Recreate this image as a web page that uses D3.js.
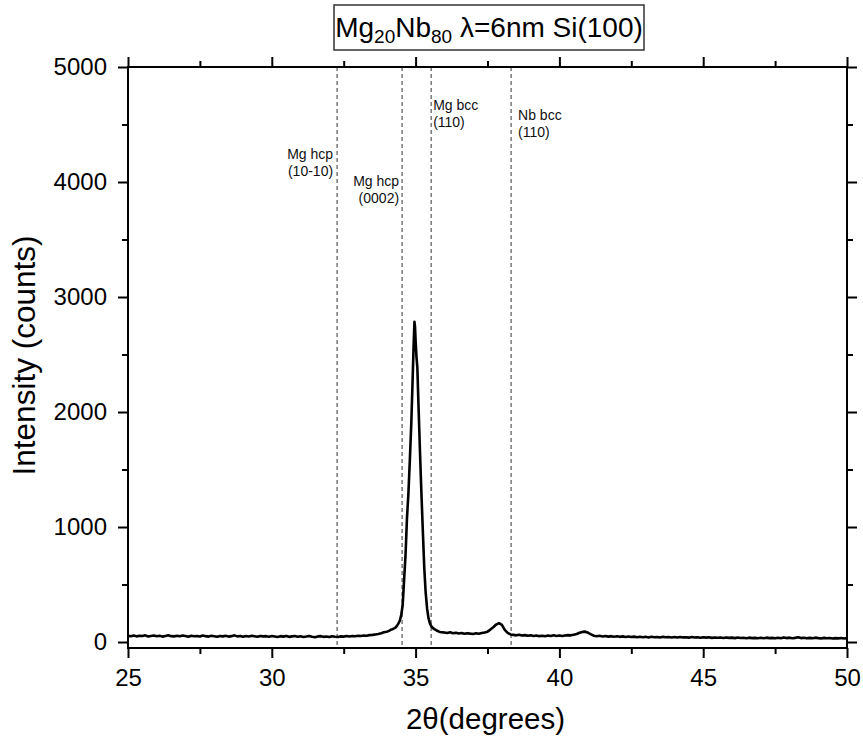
<!DOCTYPE html>
<html>
<head>
<meta charset="utf-8">
<script src="https://cdn.jsdelivr.net/npm/d3@7"></script>
<style>
  html, body { margin: 0; padding: 0; background: #fff; }
  svg { display: block; font-family: "Liberation Sans", Arial, sans-serif; }
</style>
</head>
<body>
<svg id="chart" width="863" height="744"></svg>
<script>
// XRD scan of Mg20Nb80 multilayer (λ = 6 nm) on Si(100): [2θ (deg), intensity (counts)]
const scanLow = [
  [25.0,54],[25.1,50],[25.2,57],[25.3,49],[25.4,55],[25.5,52],[25.6,58],[25.7,48],[25.8,53],[25.9,56],
  [26.0,50],[26.1,55],[26.2,47],[26.3,53],[26.4,58],[26.5,51],[26.6,49],[26.7,54],[26.8,50],[26.9,57],
  [27.0,52],[27.1,46],[27.2,55],[27.3,50],[27.4,53],[27.5,48],[27.6,56],[27.7,51],[27.8,47],[27.9,54],
  [28.0,50],[28.1,45],[28.2,52],[28.3,49],[28.4,55],[28.5,47],[28.6,51],[28.7,58],[28.8,49],[28.9,53],
  [29.0,46],[29.1,52],[29.2,48],[29.3,55],[29.4,50],[29.5,45],[29.6,53],[29.7,49],[29.8,51],[29.9,46],
  [30.0,52],[30.1,48],[30.2,44],[30.3,51],[30.4,47],[30.5,53],[30.6,45],[30.7,49],[30.8,52],[30.9,46],
  [31.0,50],[31.1,44],[31.2,48],[31.3,53],[31.4,46],[31.5,42],[31.6,49],[31.7,51],[31.8,45],[31.9,48],
  [32.0,43],[32.1,50],[32.2,46],[32.3,44],[32.4,49],[32.5,47],[32.6,52],[32.7,48],[32.8,53],[32.9,50],
  [33.0,55],[33.1,52],[33.2,57],[33.3,55],[33.4,60],[33.5,62],[33.6,66],[33.7,70],[33.8,76],[33.9,84]
];
const scanPeak = [
  [34.0,90],[34.05,95],[34.1,100],[34.15,108],[34.2,112],[34.25,118],[34.3,125],[34.35,140],
  [34.4,160],[34.45,185],[34.5,235],[34.55,320],[34.6,540],[34.65,757],[34.7,1076],[34.75,1293],
  [34.8,1584],[34.85,1899],[34.9,2309],[34.93,2565],[34.96,2785],[34.98,2740],[35.0,2620],
  [35.03,2480],[35.06,2391],[35.1,2063],[35.15,1672],[35.2,1308],[35.25,976],[35.3,652],
  [35.35,430],[35.4,290],[35.45,205],[35.5,160],[35.55,135],[35.6,122],[35.65,112],[35.7,105],
  [35.75,98],[35.8,92],[35.85,88],[35.9,85],[35.95,84]
];
const scanHigh = [
  [36.0,82],[36.1,78],[36.2,84],[36.3,76],[36.4,80],[36.5,74],[36.6,79],[36.7,72],[36.8,77],[36.9,73],
  [37.0,70],[37.1,76],[37.2,72],[37.3,78],[37.4,82],[37.5,90],[37.6,108],[37.7,128],[37.8,152],[37.9,165],
  [38.0,150],[38.1,105],[38.2,80],[38.3,66],[38.4,62],[38.5,58],[38.6,63],[38.7,56],[38.8,60],[38.9,54],
  [39.0,58],[39.1,52],[39.2,57],[39.3,51],[39.4,55],[39.5,50],[39.6,56],[39.7,52],[39.8,58],[39.9,53],
  [40.0,57],[40.1,52],[40.2,56],[40.3,60],[40.4,58],[40.5,64],[40.6,70],[40.7,80],[40.8,88],[40.9,90],
  [41.0,80],[41.1,66],[41.2,55],[41.3,50],[41.4,54],[41.5,48],[41.6,52],[41.7,47],[41.8,51],[41.9,46],
  [42.0,50],[42.1,45],[42.2,49],[42.3,44],[42.4,48],[42.5,43],[42.6,47],[42.7,42],[42.8,46],[42.9,41],
  [43.0,45],[43.1,40],[43.2,46],[43.3,42],[43.4,44],[43.5,39],[43.6,45],[43.7,41],[43.8,43],[43.9,40],
  [44.0,44],[44.1,39],[44.2,43],[44.3,40],[44.4,42],[44.5,38],[44.6,43],[44.7,39],[44.8,41],[44.9,37],
  [45.0,42],[45.1,38],[45.2,41],[45.3,36],[45.4,40],[45.5,37],[45.6,39],[45.7,35],[45.8,40],[45.9,36],
  [46.0,38],[46.1,34],[46.2,39],[46.3,35],[46.4,37],[46.5,33],[46.6,38],[46.7,34],[46.8,36],[46.9,33],
  [47.0,37],[47.1,33],[47.2,38],[47.3,34],[47.4,36],[47.5,32],[47.6,37],[47.7,33],[47.8,40],[47.9,34],
  [48.0,38],[48.1,33],[48.2,36],[48.3,41],[48.4,34],[48.5,37],[48.6,32],[48.7,36],[48.8,33],[48.9,38],
  [49.0,34],[49.1,31],[49.2,36],[49.3,33],[49.4,35],[49.5,31],[49.6,34],[49.7,32],[49.8,35],[49.9,31],
  [50.0,34]
];

// Reference reflection positions (2θ, deg)
const reflections = [
  { phase: "Mg hcp", hkl: "(10-10)", twoTheta: 32.27 },
  { phase: "Mg hcp", hkl: "(0002)",  twoTheta: 34.53 },
  { phase: "Mg bcc", hkl: "(110)",   twoTheta: 35.54 },
  { phase: "Nb bcc", hkl: "(110)",   twoTheta: 38.32 }
];

const xMajorTicks = [25, 30, 35, 40, 45, 50];
const xMinorTicks = [27.5, 32.5, 37.5, 42.5, 47.5];
const yMajorTicks = [0, 1000, 2000, 3000, 4000, 5000];
const yMinorTicks = [500, 1500, 2500, 3500, 4500];

// ---- layout ----
const svg = d3.select("#chart");
const plot = { left: 128, right: 847, top: 67, bottom: 648 };
const x = d3.scaleLinear().domain([25, 50]).range([plot.left, plot.right]);
const y = d3.scaleLinear().domain([-52, 5000]).range([plot.bottom, plot.top]);

// label placement for each reflection: text side and first-line baseline (counts)
const labelPlacement = [
  { anchor: "end",   dx: -4, level: 4200 },
  { anchor: "end",   dx: -3, level: 3965 },
  { anchor: "start", dx: 2,  level: 4626 },
  { anchor: "start", dx: 7,  level: 4539 }
];

svg.append("defs").append("clipPath").attr("id", "plotClip")
  .append("rect")
  .attr("x", plot.left).attr("y", plot.top)
  .attr("width", plot.right - plot.left).attr("height", plot.bottom - plot.top);

// reflection markers
const refl = svg.append("g").attr("class", "reflections");
refl.selectAll("line").data(reflections).join("line")
  .attr("x1", d => x(d.twoTheta)).attr("x2", d => x(d.twoTheta))
  .attr("y1", y(5000)).attr("y2", y(-52))
  .attr("stroke", "#333").attr("stroke-width", 1)
  .attr("stroke-dasharray", "4,3");

const reflLabels = refl.selectAll("text").data(reflections).join("text")
  .attr("font-size", 14).attr("fill", "#111")
  .attr("text-anchor", (d, i) => labelPlacement[i].anchor)
  .attr("transform", (d, i) => `translate(${x(d.twoTheta) + labelPlacement[i].dx},${y(labelPlacement[i].level)})`);
reflLabels.append("tspan").attr("x", 0).attr("y", 0).text(d => d.phase);
reflLabels.append("tspan").attr("x", 0).attr("y", 16.5).text(d => d.hkl);

// scan trace
const scan = scanLow.concat(scanPeak, scanHigh);
const line = d3.line().x(d => x(d[0])).y(d => y(d[1]));
svg.append("path")
  .datum(scan)
  .attr("clip-path", "url(#plotClip)")
  .attr("fill", "none")
  .attr("stroke", "#000")
  .attr("stroke-width", 2.6)
  .attr("stroke-linejoin", "round")
  .attr("d", line);

// axes (ticks point outward on all four sides)
function styleAxis(g) {
  g.select(".domain").remove();
  g.selectAll(".tick line").attr("stroke", "#000").attr("stroke-width", 2);
  g.selectAll(".tick text").attr("fill", "#000").attr("font-size", 24)
    .attr("font-family", "'Liberation Sans', Arial, sans-serif");
}
const fmt = d3.format("d");
svg.append("g").attr("transform", `translate(0,${plot.bottom})`)
  .call(d3.axisBottom(x).tickValues(xMajorTicks).tickSize(10).tickPadding(11).tickFormat(fmt)).call(styleAxis);
svg.append("g").attr("transform", `translate(0,${plot.bottom})`)
  .call(d3.axisBottom(x).tickValues(xMinorTicks).tickSize(6).tickFormat("")).call(styleAxis);
svg.append("g").attr("transform", `translate(0,${plot.top})`)
  .call(d3.axisTop(x).tickValues(xMajorTicks).tickSize(10).tickFormat("")).call(styleAxis);
svg.append("g").attr("transform", `translate(0,${plot.top})`)
  .call(d3.axisTop(x).tickValues(xMinorTicks).tickSize(6).tickFormat("")).call(styleAxis);
svg.append("g").attr("transform", `translate(${plot.left},0)`)
  .call(d3.axisLeft(y).tickValues(yMajorTicks).tickSize(10).tickPadding(11).tickFormat(fmt)).call(styleAxis);
svg.append("g").attr("transform", `translate(${plot.left},0)`)
  .call(d3.axisLeft(y).tickValues(yMinorTicks).tickSize(6).tickFormat("")).call(styleAxis);
svg.append("g").attr("transform", `translate(${plot.right},0)`)
  .call(d3.axisRight(y).tickValues(yMajorTicks).tickSize(10).tickFormat("")).call(styleAxis);
svg.append("g").attr("transform", `translate(${plot.right},0)`)
  .call(d3.axisRight(y).tickValues(yMinorTicks).tickSize(6).tickFormat("")).call(styleAxis);

// frame
svg.append("rect")
  .attr("x", plot.left).attr("y", plot.top)
  .attr("width", plot.right - plot.left).attr("height", plot.bottom - plot.top)
  .attr("fill", "none").attr("stroke", "#000").attr("stroke-width", 2);

// axis titles
svg.append("text")
  .attr("x", (plot.left + plot.right) / 2 - 2).attr("y", 729)
  .attr("text-anchor", "middle").attr("font-size", 29.5).attr("fill", "#000")
  .text("2\u03B8(degrees)");

svg.append("text")
  .attr("transform", `translate(35,${(plot.top + plot.bottom) / 2 - 2}) rotate(-90)`)
  .attr("text-anchor", "middle").attr("font-size", 31.5).attr("fill", "#000")
  .text("Intensity (counts)");

// title box
const titleG = svg.append("g");
titleG.append("rect")
  .attr("x", 334).attr("y", 5).attr("width", 310).attr("height", 45)
  .attr("fill", "#fff").attr("stroke", "#333").attr("stroke-width", 1.5);
const title = titleG.append("text")
  .attr("x", 489).attr("y", 37).attr("text-anchor", "middle")
  .attr("font-size", 28).attr("fill", "#000");
title.append("tspan").text("Mg");
title.append("tspan").attr("font-size", 19).attr("dy", 6).text("20");
title.append("tspan").attr("dy", -6).text("Nb");
title.append("tspan").attr("font-size", 19).attr("dy", 6).text("80");
title.append("tspan").attr("dy", -6).text(" \u03BB=6nm Si(100)");
</script>
</body>
</html>
